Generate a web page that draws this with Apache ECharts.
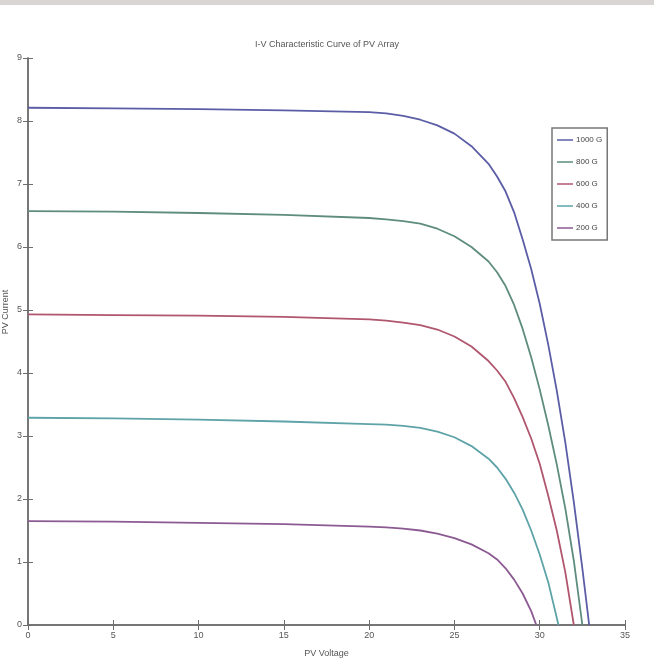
<!DOCTYPE html>
<html>
<head>
<meta charset="utf-8">
<script src="https://cdn.jsdelivr.net/npm/echarts@6/dist/echarts.min.js"></script>
<style>
  html, body { margin: 0; padding: 0; background: #fff; }
  #chart { width: 654px; height: 666px; }
</style>
</head>
<body>
<div id="chart"></div>
<script>
// I-V curves, [voltage, current]
const labels = ['1000 G', '800 G', '600 G', '400 G', '200 G'];
const colors = ['#5b5ea6', '#5e8c7e', '#b0566e', '#5ea3a8', '#8c5a92'];

const v1000 = [0, 5, 10, 15, 20, 21, 22, 23, 24, 25, 26, 27, 27.5, 28, 28.5, 29, 29.5, 30, 30.5, 31, 31.5, 32, 32.5, 32.9];
const i1000 = [8.21, 8.2, 8.19, 8.17, 8.14, 8.12, 8.08, 8.02, 7.93, 7.8, 7.6, 7.32, 7.12, 6.88, 6.55, 6.12, 5.65, 5.1, 4.45, 3.72, 2.9, 1.95, 0.9, 0];

const v800 = [0, 5, 10, 15, 20, 21, 22, 23, 24, 25, 26, 27, 27.5, 28, 28.5, 29, 29.5, 30, 30.5, 31, 31.5, 32, 32.5];
const i800 = [6.57, 6.56, 6.54, 6.51, 6.46, 6.44, 6.41, 6.37, 6.29, 6.17, 6.0, 5.77, 5.6, 5.38, 5.08, 4.7, 4.25, 3.74, 3.17, 2.55, 1.85, 1.02, 0];

const v600 = [0, 5, 10, 15, 20, 21, 22, 23, 24, 25, 26, 27, 27.5, 28, 28.5, 29, 29.5, 30, 30.5, 31, 31.5, 32];
const i600 = [4.93, 4.92, 4.91, 4.89, 4.85, 4.83, 4.8, 4.76, 4.69, 4.58, 4.42, 4.19, 4.04, 3.86, 3.6, 3.3, 2.96, 2.56, 2.05, 1.5, 0.84, 0];

const v400 = [0, 5, 10, 15, 20, 21, 22, 23, 24, 25, 26, 27, 27.5, 28, 28.5, 29, 29.5, 30, 30.5, 31.1];
const i400 = [3.29, 3.28, 3.26, 3.23, 3.19, 3.18, 3.16, 3.13, 3.07, 2.98, 2.84, 2.64, 2.5, 2.32, 2.1, 1.83, 1.5, 1.12, 0.68, 0];

const v200 = [0, 5, 10, 15, 20, 21, 22, 23, 24, 25, 26, 27, 27.5, 28, 28.5, 29, 29.5, 29.8];
const i200 = [1.65, 1.64, 1.62, 1.6, 1.56, 1.55, 1.53, 1.5, 1.45, 1.38, 1.28, 1.14, 1.04, 0.9, 0.72, 0.5, 0.22, 0];

const volts = [v1000, v800, v600, v400, v200];
const amps = [i1000, i800, i600, i400, i200];

const chart = echarts.init(document.getElementById('chart'));

const axisCommon = {
  axisLine: { show: true, lineStyle: { color: '#6e6e6e', width: 1.5 } },
  axisTick: { show: true, inside: true, length: 5, lineStyle: { color: '#6e6e6e' } },
  splitLine: { show: false }
};

chart.setOption({
  backgroundColor: '#fff',
  animation: false,
  title: {
    text: 'I-V Characteristic Curve of PV Array',
    left: 'center',
    top: 35,
    textStyle: { fontSize: 9, fontWeight: 'normal', color: '#555', fontFamily: 'Liberation Sans' }
  },
  grid: { left: 28, right: 29, top: 58, bottom: 41 },
  legend: {
    orient: 'vertical',
    left: 552,
    top: 128,
    data: labels,
    itemWidth: 16,
    itemHeight: 8,
    itemGap: 14,
    padding: [8, 5, 8, 5],
    borderColor: '#777',
    borderWidth: 1.5,
    backgroundColor: '#fff',
    icon: 'path://M0,4 L16,4 L16,5.5 L0,5.5 Z',
    textStyle: { fontSize: 8, color: '#444', padding: [0, 0, 0, -2], fontFamily: 'Liberation Sans' }
  },
  xAxis: [
    Object.assign({
      type: 'value', min: 0, max: 35, interval: 5,
      name: 'PV Voltage', nameLocation: 'middle', nameGap: 24,
      nameTextStyle: { fontSize: 9, color: '#555', fontFamily: 'Liberation Sans' },
      axisLabel: { fontSize: 9, color: '#555', margin: 6, fontFamily: 'Liberation Sans' }
    }, axisCommon),
    Object.assign({
      type: 'value', min: 0, max: 35, interval: 5, position: 'top',
      axisLabel: { show: false }
    }, axisCommon)
  ],
  yAxis: [
    Object.assign({
      type: 'value', min: 0, max: 9, interval: 1,
      axisLabel: { fontSize: 9, color: '#555', margin: 6, fontFamily: 'Liberation Sans' }
    }, axisCommon),
    Object.assign({
      type: 'value', min: 0, max: 9, interval: 1, position: 'right',
      axisLabel: { show: false }
    }, axisCommon)
  ],
  graphic: [
    { type: 'rect', left: 0, top: 0, shape: { width: 654, height: 5 }, style: { fill: '#d9d5d5' }, silent: true },
    {
      type: 'text', x: 6, y: 312, rotation: Math.PI / 2,
      style: { text: 'PV Current', fontSize: 9, fill: '#555', fontFamily: 'Liberation Sans', align: 'center', verticalAlign: 'middle' }
    }
  ],
  series: labels.map((name, k) => ({
    name: name,
    type: 'line',
    smooth: false,
    showSymbol: false,
    lineStyle: { width: 1.8, color: colors[k], join: 'round' },
    itemStyle: { color: colors[k] },
    data: volts[k].map((v, j) => [v, amps[k][j]])
  }))
});
</script>
</body>
</html>
